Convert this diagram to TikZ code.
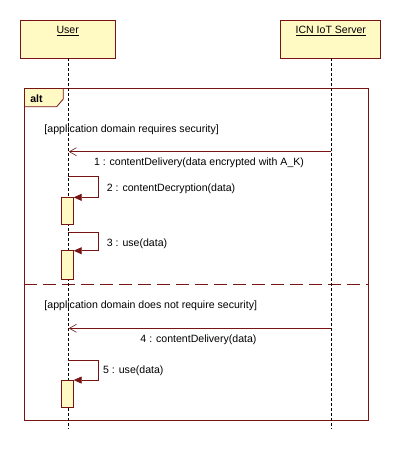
\documentclass[tikz,border=0pt]{standalone}
\usepackage{fontspec}
\setmainfont{Liberation Sans}
\usetikzlibrary{arrows.meta}
\definecolor{umlred}{RGB}{120,20,20}
\definecolor{umlfill}{RGB}{255,249,196}
\tikzset{
  hdr/.style={draw=umlred, fill=umlfill, line width=0.9bp, minimum height=38bp, inner sep=0pt},
  lbl/.style={inner sep=0pt, text=black},
  lifeline/.style={black, line width=0.7bp, dash pattern=on 3bp off 2bp},
  actbox/.style={draw=umlred, fill=umlfill, line width=0.8bp, minimum width=11.6bp, inner sep=0pt},
  msgline/.style={umlred, line width=0.8bp},
  async/.style={msgline, -{Straight Barb[length=7bp,width=8bp,line width=0.6bp]}},
  selfmsg/.style={msgline, -{Triangle[length=8bp,width=7bp]}},
  framebox/.style={draw=umlred, line width=1bp, inner sep=0pt},
  sep/.style={umlred, line width=1bp, dash pattern=on 13bp off 6bp}
}
\begin{document}
\begin{tikzpicture}[x=1bp,y=-1bp, font=\fontsize{10.6}{12}\selectfont]
\useasboundingbox (0,0) rectangle (401,452);
% frame tab
\fill[umlfill] (24.3,88.3) -- (63.3,88.3) -- (63.3,99) -- (56.7,106.7) -- (24.3,106.7) -- cycle;
\draw[umlred, line width=0.8bp] (63.3,88.3) -- (63.3,99) -- (56.7,106.7) -- (24.3,106.7);
\node[lbl, font=\fontsize{10.6}{12}\selectfont\bfseries] (altlbl) at (36.5,98.5) {alt};
\node[framebox, minimum width=344bp, minimum height=331.7bp] (alt) at (196.3,254.15) {};
% separator
\coordinate (sepl) at (24.3,284.3);
\coordinate (sepr) at (368.3,284.3);
\draw[sep] (sepl) -- (sepr);
% headers
\node[hdr, minimum width=95.3bp] (user) at (67.7,39.2) {};
\node[lbl] (usertxt) at (67.7,31) {\underline{User}};
\node[hdr, minimum width=100bp] (server) at (330.5,39.2) {};
\node[lbl] (servertxt) at (330.8,31) {\underline{ICN IoT Server}};
% lifelines
\coordinate (userend) at (68.3,428.5);
\coordinate (serverend) at (331,428.5);
\draw[lifeline] (68.3,58.4) -- (userend);
\draw[lifeline] (331,58.4) -- (serverend);
% guard 1
\node[lbl, anchor=west] (g1) at (44.3,130) {[application domain requires security]};
% message 1
\coordinate (m1s) at (331,151.7);
\coordinate (m1e) at (68.8,151.7);
\draw[async] (m1s) -- (m1e);
\node[lbl] (l1) at (199,162.3) {1 : contentDelivery(data encrypted with A\_K)};
% activation boxes
\node[actbox, minimum height=26.7bp] (a2) at (67.5,210.7) {};
\node[actbox, minimum height=28.3bp] (a3) at (67.5,264.9) {};
\node[actbox, minimum height=27.3bp] (a5) at (67.5,393.7) {};
% message 2
\coordinate (s2) at (68.3,176.7);
\draw[selfmsg] (s2) -- ++(30,0) |- ([yshift=-0.4bp]a2.north east);
\node[lbl, anchor=west] (l2) at (106.7,188.7) {2 : contentDecryption(data)};
% message 3
\coordinate (s3) at (68.3,232.3);
\draw[selfmsg] (s3) -- ++(30,0) |- ([yshift=-0.4bp]a3.north east);
\node[lbl, anchor=west] (l3) at (106.7,243.3) {3 : use(data)};
% guard 2
\node[lbl, anchor=west] (g2) at (44.3,306) {[application domain does not require security]};
% message 4
\coordinate (m4s) at (331,328.3);
\coordinate (m4e) at (68.8,328.3);
\draw[async] (m4s) -- (m4e);
\node[lbl] (l4) at (198.5,339.5) {4 : contentDelivery(data)};
% message 5
\coordinate (s5) at (68.3,360.3);
\draw[selfmsg] (s5) -- ++(30,0) |- ([yshift=-0.4bp]a5.north east);
\node[lbl, anchor=west] (l5) at (103,370.7) {5 : use(data)};
\end{tikzpicture}
\end{document}
